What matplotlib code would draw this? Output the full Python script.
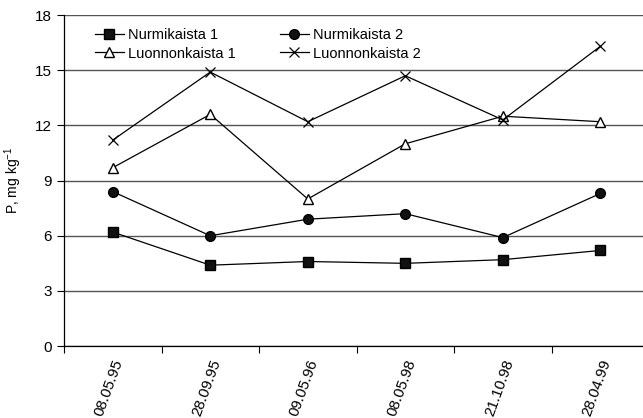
import numpy as np
import matplotlib.pyplot as plt

plt.rcParams['font.family'] = ['Liberation Sans', 'DejaVu Sans']

dates = ['08.05.95', '28.09.95', '09.05.96', '08.05.98', '21.10.98', '28.04.99']
nurmi1 = [6.2, 4.4, 4.6, 4.5, 4.7, 5.2]
nurmi2 = [8.4, 6.0, 6.9, 7.2, 5.9, 8.3]
luonto1 = [9.7, 12.6, 8.0, 11.0, 12.5, 12.2]
luonto2 = [11.2, 14.9, 12.2, 14.7, 12.3, 16.3]

fig = plt.figure(figsize=(6.43, 4.18), dpi=100)
ax = fig.add_axes([0.0995, 0.172, 0.91, 0.792])

x = np.arange(len(dates))
h1, = ax.plot(x, nurmi1, color='black', lw=0.9, marker='s', ms=7, mfc='#111111', label='Nurmikaista 1')
h2, = ax.plot(x, nurmi2, color='black', lw=0.9, marker='o', ms=7, mfc='#111111', label='Nurmikaista 2')
h3, = ax.plot(x, luonto1, color='black', lw=0.9, marker='^', ms=7, mfc='white', label='Luonnonkaista 1')
h4, = ax.plot(x, luonto2, color='black', lw=0.9, marker='x', ms=7, mew=0.9, label='Luonnonkaista 2')

ax.set_xlim(-0.5, len(dates) - 0.5)
ax.set_ylim(0, 18)
ax.set_yticks(np.arange(0, 19, 3))
ax.yaxis.grid(True, color='#555555', lw=1.0)
ax.set_axisbelow(True)

# boundary ticks between categories, labels centred in each slot
ax.set_xticks(np.arange(-0.5, len(dates), 1.0))
ax.set_xticklabels([])
ax.set_xticks(x, minor=True)
ax.set_xticklabels(dates, minor=True, rotation=70, ha='right', va='top',
                   rotation_mode='anchor', fontsize=11)
ax.tick_params(axis='x', which='minor', length=0, pad=8)
ax.tick_params(axis='x', which='major', length=5, width=0.8, direction='out')
ax.tick_params(axis='y', length=5, width=0.8, labelsize=11, pad=4)

for s in ['top', 'right']:
    ax.spines[s].set_visible(False)
ax.spines['left'].set_linewidth(0.9)
ax.spines['bottom'].set_linewidth(0.9)

ax.set_ylabel('P, mg kg$^{\\mathregular{-1}}$', fontsize=10)
ax.yaxis.set_label_coords(-0.068, 0.5)

# row-wise order: Nurmikaista on the first row, Luonnonkaista on the second
ax.legend([h1, h3, h2, h4],
          ['Nurmikaista 1', 'Luonnonkaista 1', 'Nurmikaista 2', 'Luonnonkaista 2'],
          loc='upper left', ncol=2, frameon=False, fontsize=10.5,
          handlelength=2.0, handletextpad=0.3, columnspacing=3.0,
          labelspacing=0.3, bbox_to_anchor=(0.03, 1.0))

fig.savefig('out.png', dpi=100)
